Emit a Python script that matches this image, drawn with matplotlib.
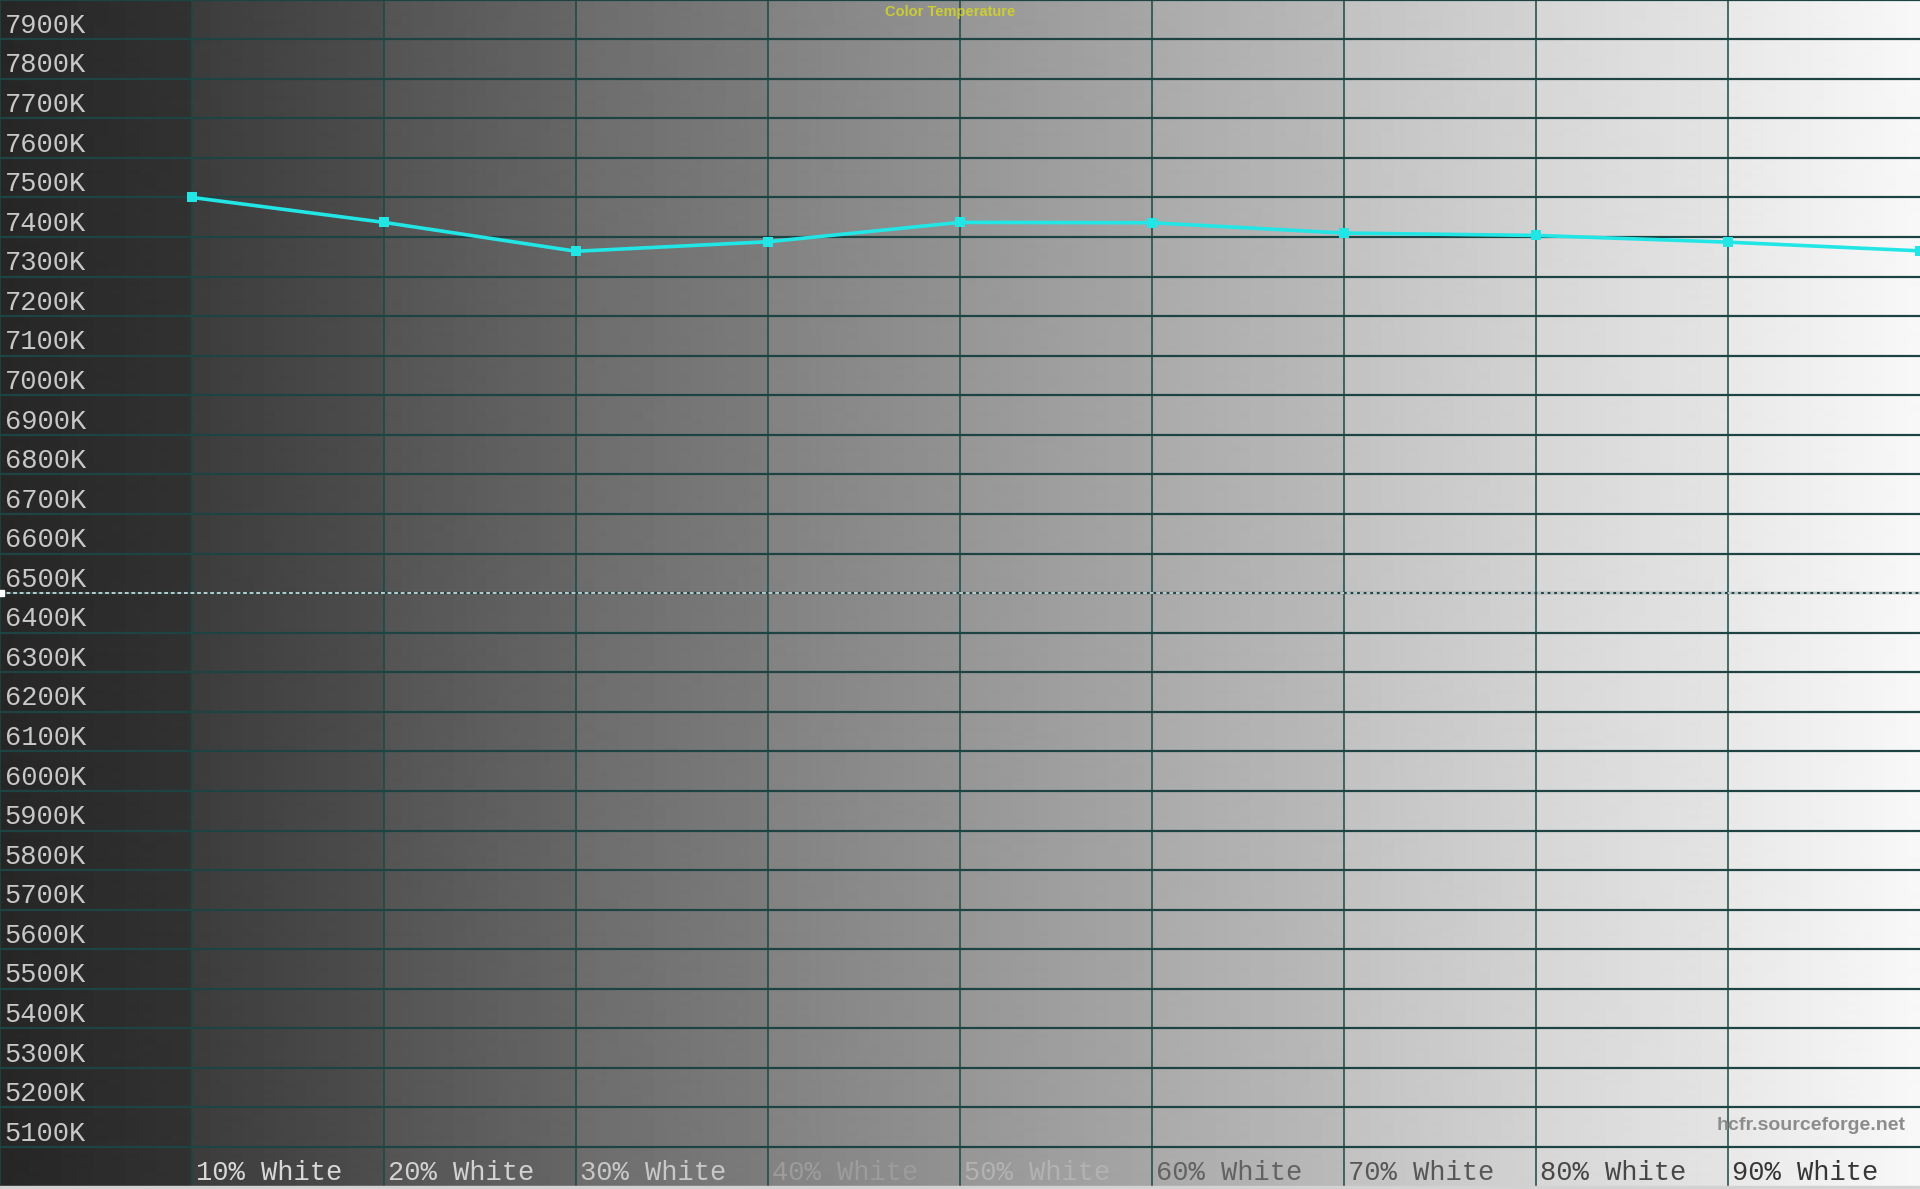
import matplotlib
matplotlib.use('Agg')
import matplotlib.pyplot as plt
import numpy as np

# measured colour temperature per grey step
levels = [10, 20, 30, 40, 50, 60, 70, 80, 90, 100]
cct = [7500, 7437, 7364, 7388, 7437, 7436, 7410, 7404, 7387, 7365]

x_labels = ['10% White', '20% White', '30% White', '40% White', '50% White',
            '60% White', '70% White', '80% White', '90% White']
y_ticks = list(range(5100, 8000, 100))
reference_cct = 6500

# label colours as they appear over the grey ramp
xlab_colors = ['#d8d8d8', '#d2d2d2', '#c8c8c8', '#9c9c9c', '#b2b2b2',
               '#626262', '#575757', '#474747', '#363636']
# background ramp, start/end grey of every 10% band (0-255)
band_start = [38, 60, 84, 108, 130, 150, 170, 194, 214, 232]
band_end = [50, 78, 102, 124, 146, 166, 186, 210, 228, 248]

ylo, yhi = 4994, 7999

fig = plt.figure(figsize=(19.2, 11.89), dpi=100)
ax = fig.add_axes([0, 0, 1, 1])
ax.set_xlim(0, 100)
ax.set_ylim(ylo, yhi)
ax.axis('off')

# stepped grey background
xs = np.linspace(0, 100, 1920)
band = np.minimum((xs // 10).astype(int), 9)
frac = (xs - band * 10) / 10
grey = np.array(band_start)[band] + (np.array(band_end)[band] - np.array(band_start)[band]) * frac
ax.imshow(grey[np.newaxis, :], cmap='gray', vmin=0, vmax=255, aspect='auto',
          extent=[0, 100, ylo, yhi], interpolation='bilinear', zorder=0)

# grid
for v in y_ticks + [8000]:
    ax.axhline(v, color='#1d4343', lw=1.6, zorder=1)
for xv in range(0, 100, 10):
    ax.axvline(xv, color='#1a4848', lw=1.1, zorder=1)

# 6500K reference
ax.axhline(reference_cct, color='#eeeeee', lw=1.1, dashes=(2.5, 1.8), zorder=2)
ax.plot([0.05], [reference_cct], marker='s', ms=4, color='white', zorder=3, clip_on=False)

# bottom border strip
ax.axhspan(ylo, 5001, color='#d2d2d2', zorder=2)

# y labels
for v in y_ticks:
    ax.text(0.25, v + 16, f'{v}K', family='Liberation Mono', fontsize=19.5,
            color='#c8c8c8', va='baseline', ha='left', zorder=4)

# x labels
for i, lab in enumerate(x_labels):
    ax.text(levels[i] + 0.2, 5016, lab, family='Liberation Mono', fontsize=19.5,
            color=xlab_colors[i], va='baseline', ha='left', zorder=4)

# data
ax.plot(levels, cct, color='#22e6e6', lw=2.6, marker='s', ms=7.5,
        markeredgewidth=0, zorder=5)

fig.text(0.495, 0.996, 'Color Temperature', family='Liberation Sans', fontweight='bold',
         fontsize=10.5, color='#cccc33', ha='center', va='top')
fig.text(0.9927, 0.0538, 'hcfr.sourceforge.net', family='Liberation Sans', fontweight='bold',
         fontsize=14, color='#8c8c8c', ha='right', va='center')

fig.savefig('out.png', dpi=100)
